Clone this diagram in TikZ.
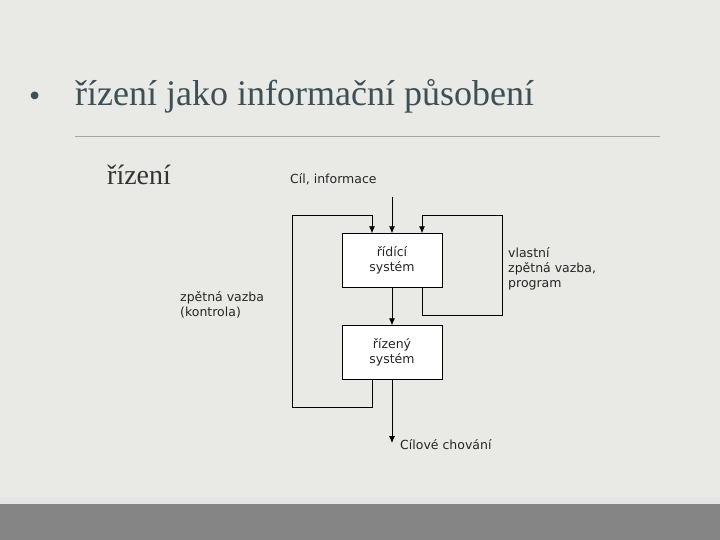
\documentclass[tikz,border=0pt]{standalone}
\usepackage{fontspec}
\setmainfont{Liberation Serif}
\newfontfamily\diag{DejaVu Sans}
\usetikzlibrary{arrows.meta}
\definecolor{bg}{HTML}{E9E9E5}
\definecolor{ttl}{HTML}{3E5055}
\begin{document}
\begin{tikzpicture}[x=1pt,y=-1pt,
  sysbox/.style={draw,fill=white,minimum width=100pt,minimum height=54pt,font=\diag\fontsize{12.5}{15}\selectfont,text=black!85,align=center,inner sep=0pt},
  lbl/.style={font=\diag\fontsize{12.5}{15}\selectfont,text=black!85,align=left,inner sep=0pt,anchor=north west},
  arr/.style={line width=0.8pt,-{Latex[length=7pt,width=6pt]}}]
\fill[bg] (0,0) rectangle (720,540);
\useasboundingbox (0,0) rectangle (720,540);
\fill[black!10] (0,497) rectangle (720,504);
\fill[black!48] (0,504) rectangle (720,540);
\draw[gray!70,line width=0.6pt] (75,136) -- (660,136);
\node[font=\fontsize{32}{34}\selectfont,text=ttl,anchor=base west,inner sep=0pt] (bul) at (29,107) {•};
\node[font=\fontsize{36}{40}\selectfont,text=ttl,anchor=base west,inner sep=0pt] (title) at (75,106) {řízení jako informační působení};
\node[font=\fontsize{28}{32}\selectfont,text=black!80,anchor=base west,inner sep=0pt] (riz) at (107,185) {řízení};
\node[sysbox] (rs) at (392,260.5) {řídící\\systém};
\node[sysbox] (zs) at (392,352.5) {řízený\\systém};
\node[lbl] (cil) at (290,173) {Cíl, informace};
\node[lbl] (vl) at (508,247) {vlastní\\zpětná vazba,\\program};
\node[lbl] (zv) at (180,291) {zpětná vazba\\(kontrola)};
\node[lbl] (ch) at (400,439) {Cílové chování};
\coordinate (in) at (392,197);
\coordinate (out) at (392,443);
\draw[arr] (in) -- (rs.north);
\draw[arr] (rs.south) -- (zs.north);
\draw[arr] (zs.south) -- (out);
\draw[arr] (zs.south -| 372,0) -- (372,407) -- (292,407) -- (292,215) -- (372,215) -- (rs.north -| 372,0);
\draw[arr] (rs.south -| 422,0) -- (422,315) -- (502,315) -- (502,215) -- (422,215) -- (rs.north -| 422,0);
\end{tikzpicture}
\end{document}
